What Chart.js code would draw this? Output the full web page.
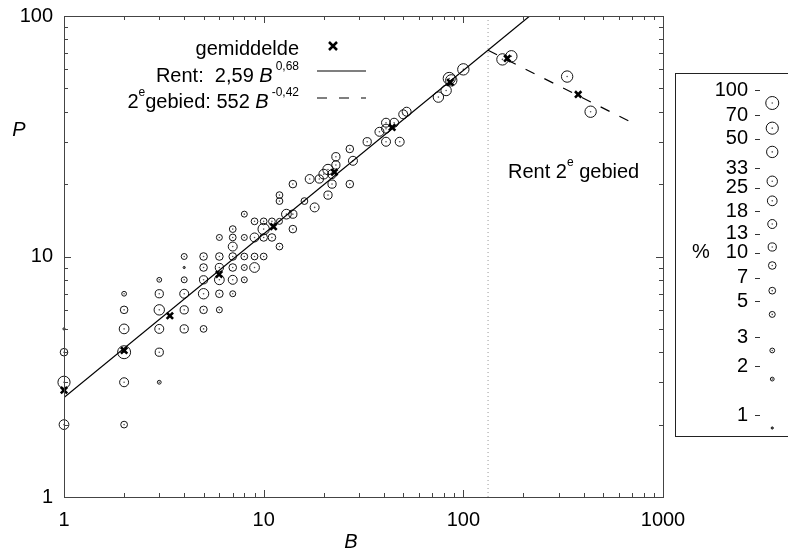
<!DOCTYPE html>
<html>
<head>
<meta charset="utf-8">
<script src="https://cdn.jsdelivr.net/npm/chart.js@4.4.1/dist/chart.umd.min.js"></script>
<style>
  html, body { margin: 0; padding: 0; background: #fff; overflow: hidden; }
  #wrap { position: relative; width: 788px; height: 552px; overflow: hidden; }
  #main { position: absolute; left: 0; top: 0; }
  #sizeBox { position: absolute; left: 675px; top: 73px; width: 113px; height: 362px;
             border: 1px solid #222; border-right: none; }
  #sizes { position: absolute; left: 0; top: 0; }
</style>
</head>
<body>
<div id="wrap">
  <canvas id="main" width="788" height="552"></canvas>
  <div id="sizeBox"><canvas id="sizes" width="113" height="390"></canvas></div>
</div>
<script>
// observations per B column: P values and share (%) of each P
var colB   = [1, 2, 3, 4, 5, 6, 7, 8, 9, 10, 11, 12, 13, 14, 16, 17, 18, 19, 20, 21, 22, 23, 27, 28, 33, 38, 41, 45, 48, 50, 52, 75, 82, 85, 87, 100];
var colP   = [[5,4,3,2], [7,6,5,4,3,2], [8,7,6,5,4,3], [10,9,8,7,6,5], [10,9,8,7,6,5], [12,10,9,8,7,6],
              [13,12,11,10,9,8,7], [15,12,10,9,8], [14,12,10,9], [14,13,12,10], [14,12], [18,17,14,11],
              [15], [20,15,13], [17], [21], [16], [21], [22], [23,18], [22,20], [26,24], [28,20], [25],
              [30], [33], [36,34,30], [36], [30], [39], [40], [46], [49], [55], [54], [60]];
var colPct = [[1,10,70,25], [3,10,25,100,18,7], [3,13,33,18,13,2], [5,1,5,18,13,13], [10,10,13,33,10,7], [5,10,13,25,10,5],
              [7,7,18,10,10,18,5], [5,5,7,5,5], [7,18,7,25], [7,50,10,7], [7,10], [7,7,5,7],
              [25], [10,13,10], [7], [18], [18], [13], [25], [33,13], [18,13], [13,13], [10,10], [18],
              [13], [18], [18,18,18], [18], [18], [18], [18], [33], [33], [70], [50], [50]];

// second region (beyond the Rent region)
var secB   = [157, 174, 331, 434];
var secP   = [66, 68, 56, 40];
var secPct = [50, 50, 50, 50];

// averages (gemiddelde)
var meanB = [1, 2, 3.39, 5.98, 11.2, 22.6, 44, 86, 166, 376];
var meanP = [2.78, 4.07, 5.67, 8.43, 13.3, 22.4, 34.4, 53, 66.6, 47.2];

// fitted lines, end points
var rentLineB   = [1, 215];
var rentLineP   = [2.59, 100];
var secondLineB = [133, 700];
var secondLineP = [72, 36];
var boundaryB   = [133, 133];
var boundaryP   = [1, 100];

var xTickValues = [1, 10, 100, 1000];
var yTickValues = [1, 10, 100];
var sizeLevels  = [100, 70, 50, 33, 25, 18, 13, 10, 7, 5, 3, 2, 1];

var FAM = '"Liberation Sans", Arial, Helvetica, sans-serif';
Chart.defaults.font.family = FAM;
Chart.defaults.font.size = 20;
Chart.defaults.color = '#000';
Chart.defaults.animation = false;
Chart.defaults.events = [];
Chart.defaults.plugins.legend.display = false;
Chart.defaults.plugins.tooltip.enabled = false;

function sizeRadius(pct) {
    return 1.1 + 2.7 * Math.log10(pct);
}

function logTicks(lo, hi) {
    var out = [];
    for (var d = lo; d < hi; d *= 10) {
        for (var m = 1; m < 10; m++) out.push({value: m * d});
    }
    out.push({value: hi});
    return out;
}

function pairs(xs, ys) {
    return xs.map(function (x, i) { return {x: x, y: ys[i]}; });
}

// collect observation points
var obs = [];
for (var i = 0; i < colB.length; i++) {
    for (var j = 0; j < colP[i].length; j++) {
        obs.push({x: colB[i], y: colP[i][j], pct: colPct[i][j]});
    }
}
for (i = 0; i < secB.length; i++) {
    obs.push({x: secB[i], y: secP[i], pct: secPct[i]});
}

// text with italic parts and superscripts; numbers are small gaps
function drawRuns(ctx, parts, x, y, alignRight) {
    var fonts = {n: '20px ' + FAM, i: 'italic 20px ' + FAM, s: '12px ' + FAM};
    var w = 0;
    parts.forEach(function (p) {
        if (typeof p === 'number') { w += p; return; }
        ctx.font = fonts[p[1]];
        w += ctx.measureText(p[0]).width;
    });
    var cx = alignRight ? x - w : x;
    ctx.textAlign = 'left';
    ctx.textBaseline = 'alphabetic';
    parts.forEach(function (p) {
        if (typeof p === 'number') { cx += p; return; }
        ctx.font = fonts[p[1]];
        ctx.fillText(p[0], cx, p[1] === 's' ? y - 12 : y);
        cx += ctx.measureText(p[0]).width;
    });
}

var framePlugin = {
    id: 'frame',
    afterDraw: function (chart) {
        var ctx = chart.ctx, a = chart.chartArea;
        var xs = chart.scales.x, ys = chart.scales.y;
        ctx.save();
        ctx.strokeStyle = '#444';
        ctx.lineWidth = 1;
        ctx.strokeRect(a.left + 0.5, a.top + 0.5, a.right - a.left, a.bottom - a.top);

        // inward tick marks on all four sides
        ctx.beginPath();
        xs.ticks.forEach(function (t) {
            var px = Math.round(xs.getPixelForValue(t.value)) + 0.5;
            var len = xTickValues.indexOf(t.value) >= 0 ? 7 : 4;
            ctx.moveTo(px, a.bottom); ctx.lineTo(px, a.bottom - len);
            ctx.moveTo(px, a.top); ctx.lineTo(px, a.top + len);
        });
        ys.ticks.forEach(function (t) {
            var py = Math.round(ys.getPixelForValue(t.value)) + 0.5;
            var len = yTickValues.indexOf(t.value) >= 0 ? 7 : 4;
            ctx.moveTo(a.left, py); ctx.lineTo(a.left + len, py);
            ctx.moveTo(a.right, py); ctx.lineTo(a.right - len, py);
        });
        ctx.stroke();

        ctx.fillStyle = '#000';
        // axis titles
        ctx.font = 'italic 20px ' + FAM;
        ctx.textAlign = 'center';
        ctx.textBaseline = 'alphabetic';
        ctx.fillText('P', 19, 136);
        ctx.fillText('B', 351, 548);

        // legend
        drawRuns(ctx, [['gemiddelde', 'n']], 299, 55, true);
        drawRuns(ctx, [['Rent:  2,59 ', 'n'], ['B', 'i'], 3, ['0,68', 's']], 299, 82, true);
        drawRuns(ctx, [['2', 'n'], ['e', 's'], ['gebied: 552 ', 'n'], ['B', 'i'], 3, ['-0,42', 's']], 299, 108, true);

        ctx.strokeStyle = '#000';
        ctx.lineWidth = 2.5;
        ctx.beginPath();
        ctx.moveTo(329, 42); ctx.lineTo(337, 50);
        ctx.moveTo(337, 42); ctx.lineTo(329, 50);
        ctx.stroke();

        ctx.lineWidth = 1.2;
        ctx.beginPath();
        ctx.moveTo(317, 71); ctx.lineTo(366, 71);
        ctx.stroke();
        ctx.setLineDash([10, 12]);
        ctx.beginPath();
        ctx.moveTo(317, 98); ctx.lineTo(366, 98);
        ctx.stroke();
        ctx.setLineDash([]);

        drawRuns(ctx, [['Rent 2', 'n'], ['e', 's'], [' gebied', 'n']], 508, 178, false);
        ctx.restore();
    }
};

new Chart(document.getElementById('main'), {
    type: 'scatter',
    data: {
        datasets: [
            {
                label: 'gemiddelde',
                data: pairs(meanB, meanP),
                pointStyle: 'crossRot',
                pointRadius: 4.5,
                pointBorderWidth: 2.6,
                pointBorderColor: '#000',
                clip: false
            },
            {
                label: 'Rent',
                type: 'line',
                data: pairs(rentLineB, rentLineP),
                borderColor: '#000',
                borderWidth: 1.2,
                pointRadius: 0,
                fill: false
            },
            {
                label: '2e gebied',
                type: 'line',
                data: pairs(secondLineB, secondLineP),
                borderColor: '#000',
                borderWidth: 1.2,
                borderDash: [10, 11],
                pointRadius: 0,
                fill: false
            },
            {
                label: 'grens',
                type: 'line',
                data: pairs(boundaryB, boundaryP),
                borderColor: '#999',
                borderWidth: 1,
                borderDash: [1, 3],
                pointRadius: 0,
                fill: false
            },
            {
                label: 'centres',
                data: obs,
                pointRadius: 0.8,
                pointBackgroundColor: '#555',
                pointBorderWidth: 0,
                clip: false
            },
            {
                label: 'aandeel',
                data: obs,
                pointStyle: 'circle',
                pointRadius: function (c) { return sizeRadius(c.raw.pct); },
                pointBorderColor: '#111',
                pointBorderWidth: 1,
                pointBackgroundColor: 'rgba(0,0,0,0)',
                clip: false
            }
        ]
    },
    options: {
        responsive: false,
        layout: {padding: {top: 16, right: 125, bottom: 0, left: 0}},
        scales: {
            x: {
                type: 'logarithmic',
                position: 'bottom',
                min: 1,
                max: 1000,
                afterBuildTicks: function (s) { s.ticks = logTicks(1, 1000); },
                afterFit: function (s) { s.height = 55; },
                grid: {display: false, tickLength: 8},
                border: {display: false},
                ticks: {
                    autoSkip: false,
                    maxRotation: 0,
                    padding: 3,
                    callback: function (v) { return xTickValues.indexOf(v) >= 0 ? String(v) : ''; }
                }
            },
            y: {
                type: 'logarithmic',
                min: 1,
                max: 100,
                afterBuildTicks: function (s) { s.ticks = logTicks(1, 100); },
                afterFit: function (s) { s.width = 64; },
                grid: {display: false, tickLength: 7},
                border: {display: false},
                ticks: {
                    autoSkip: false,
                    padding: 4,
                    callback: function (v) { return yTickValues.indexOf(v) >= 0 ? String(v) : ''; }
                }
            }
        }
    },
    plugins: [framePlugin]
});

// size legend (percentage -> circle size)
var sizeMarks = {
    id: 'sizeMarks',
    afterDraw: function (chart) {
        var ctx = chart.ctx, ys = chart.scales.y;
        ctx.save();
        ctx.strokeStyle = '#333';
        ctx.lineWidth = 1;
        ctx.beginPath();
        sizeLevels.forEach(function (v) {
            var py = Math.round(ys.getPixelForValue(v) - 13) + 0.5;
            ctx.moveTo(79, py); ctx.lineTo(84, py);
        });
        ctx.stroke();
        ctx.fillStyle = '#000';
        ctx.font = '20px ' + FAM;
        ctx.textAlign = 'center';
        ctx.textBaseline = 'middle';
        ctx.fillText('%', 25, 178);
        ctx.restore();
    }
};

var legendPts = sizeLevels.map(function (p) { return {x: 0.5, y: p, pct: p}; });

new Chart(document.getElementById('sizes'), {
    type: 'scatter',
    data: {
        datasets: [
            {
                data: legendPts,
                pointRadius: 0.8,
                pointBackgroundColor: '#555',
                pointBorderWidth: 0,
                clip: false
            },
            {
                data: legendPts,
                pointStyle: 'circle',
                pointRadius: function (c) { return sizeRadius(c.raw.pct); },
                pointBorderColor: '#111',
                pointBorderWidth: 1,
                pointBackgroundColor: function (c) { return c.raw.pct === 1 ? '#111' : 'rgba(0,0,0,0)'; },
                clip: false
            }
        ]
    },
    options: {
        responsive: false,
        layout: {padding: {top: 29, bottom: 36, left: 0, right: 0}},
        scales: {
            x: {type: 'linear', min: 0, max: 1, display: false},
            y: {
                type: 'logarithmic',
                min: 1,
                max: 100,
                afterBuildTicks: function (s) { s.ticks = sizeLevels.map(function (v) { return {value: v}; }); },
                afterFit: function (s) { s.width = 87; },
                grid: {display: false, tickLength: 12},
                border: {display: false},
                ticks: {
                    autoSkip: false,
                    padding: 3,
                    labelOffset: -13,
                    callback: function (v) { return String(v); }
                }
            }
        }
    },
    plugins: [sizeMarks]
});
</script>
</body>
</html>
